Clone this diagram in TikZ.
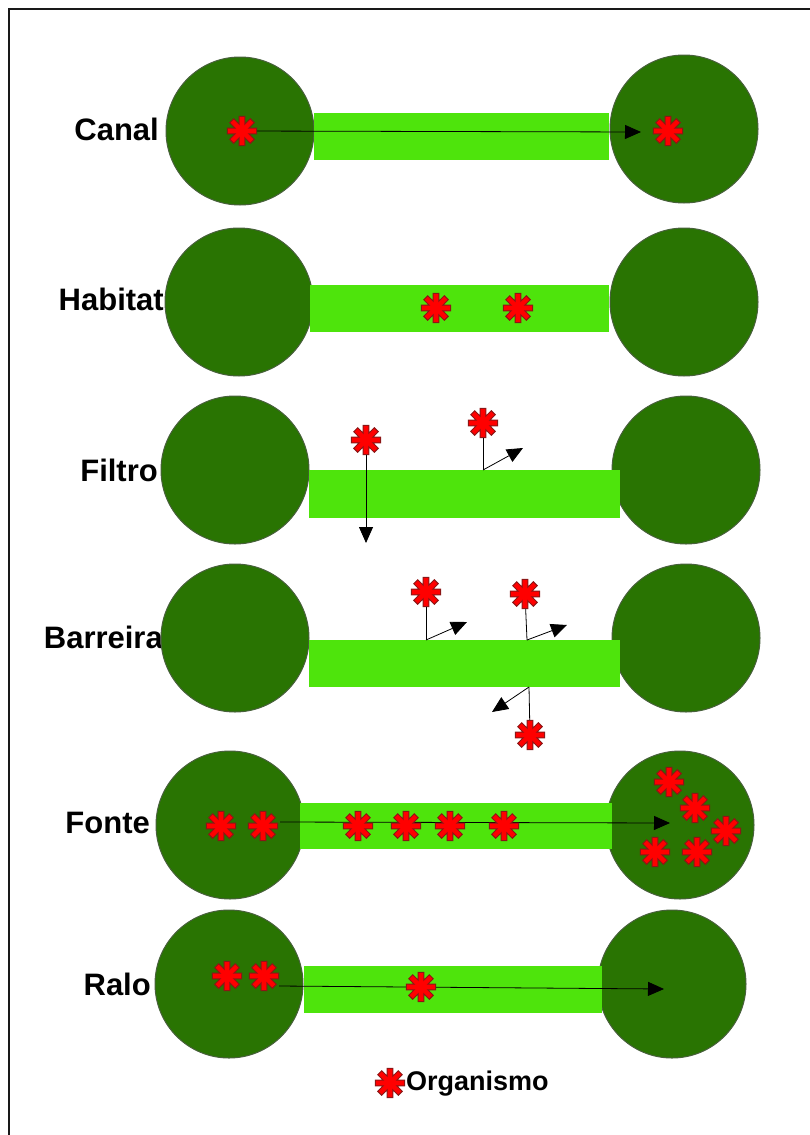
\documentclass[tikz,border=0pt]{standalone}
\usepackage{fontspec}
\setmainfont{Liberation Sans}
\usetikzlibrary{arrows.meta}
\definecolor{lagoa}{RGB}{41,116,2}
\definecolor{lagoaborda}{RGB}{72,96,60}
\definecolor{corredorverde}{RGB}{78,228,12}
\definecolor{orgborda}{RGB}{140,22,22}
\begin{document}
\begin{tikzpicture}[x=1pt,y=-1pt,
  patch/.style={circle, fill=lagoa, draw=lagoaborda, line width=1pt, minimum size=148pt, inner sep=0pt},
  corredor/.style={fill=corredorverde},
  rotulo/.style={anchor=east, inner sep=0pt, font=\fontsize{31}{36}\selectfont\bfseries},
  fluxo/.style={-{Triangle[length=16pt,width=14pt]}, line width=0.8pt},
  org/.pic={\draw[fill=red, draw=orgborda, line width=1pt] (-22.5:7.4)
    \foreach \a in {0,45,...,315}{ -- (\a-11:14.8) -- (\a+11:14.8) -- (\a+22.5:7.4)} -- cycle;}]
\useasboundingbox (0,0) rectangle (810,1135);
\draw[line width=2.5pt, black!90] (9,1135) -- (9,9) -- (810,9);

\node[rotulo] (canal) at (159,129) {Canal};
\node[patch] (canalA) at (240,131) {};
\node[patch] (canalB) at (684,129) {};
\fill[corredor] (314,113) rectangle (609,160);
\coordinate (o1) at (242,131);
\coordinate (o2) at (668,131);
\coordinate (t1) at (641,132);
\draw[fluxo] (o1) -- (t1);
\pic at (o1) {org};
\pic at (o2) {org};

\node[rotulo] (habitat) at (164,299) {Habitat};
\node[patch] (habitatA) at (239,302) {};
\node[patch] (habitatB) at (684,302) {};
\fill[corredor] (310,285) rectangle (609,332);
\coordinate (o3) at (436,308);
\coordinate (o4) at (518,308);
\pic at (o3) {org};
\pic at (o4) {org};

\node[rotulo] (filtro) at (158,470) {Filtro};
\node[patch] (filtroA) at (235,470) {};
\node[patch] (filtroB) at (686,470) {};
\fill[corredor] (309,470) rectangle (620,518);
\coordinate (o5) at (366,440);
\coordinate (t5) at (366,543);
\coordinate (o6) at (483,423);
\coordinate (k6) at (483,470);
\coordinate (t6) at (523,448);
\draw[fluxo] (o5) -- (t5);
\draw[line width=0.8pt] (o6) -- (k6);
\draw[fluxo] (k6) -- (t6);
\pic at (o5) {org};
\pic at (o6) {org};

\node[rotulo] (barreira) at (163,637) {Barreira};
\node[patch] (barreiraA) at (235,638) {};
\node[patch] (barreiraB) at (686,638) {};
\fill[corredor] (309,640) rectangle (620,687);
\coordinate (o7) at (426,592);
\coordinate (k7) at (426,640);
\coordinate (t7) at (467,622);
\coordinate (o8) at (525,594);
\coordinate (k8) at (527,640);
\coordinate (t8) at (567,625);
\coordinate (o9) at (530,735);
\coordinate (k9) at (529,687);
\coordinate (t9) at (492,712);
\draw[line width=0.8pt] (o7) -- (k7);
\draw[fluxo] (k7) -- (t7);
\draw[line width=0.8pt] (o8) -- (k8);
\draw[fluxo] (k8) -- (t8);
\draw[line width=0.8pt] (o9) -- (k9);
\draw[fluxo] (k9) -- (t9);
\pic at (o7) {org};
\pic at (o8) {org};
\pic at (o9) {org};

\node[rotulo] (fonte) at (150,823) {Fonte};
\node[patch] (fonteA) at (230,825) {};
\node[patch] (fonteB) at (680,825) {};
\fill[corredor] (300,803) rectangle (612,849);
\coordinate (s1) at (221,826);
\coordinate (s2) at (263,826);
\coordinate (s3) at (358,826);
\coordinate (s4) at (406,826);
\coordinate (s5) at (450,826);
\coordinate (s6) at (504,826);
\coordinate (f0) at (280,822);
\coordinate (f1) at (670,823);
\coordinate (s7) at (669,782);
\coordinate (s8) at (695,808);
\coordinate (s9) at (726,831);
\coordinate (s10) at (655,852);
\coordinate (s11) at (697,852);
\draw[fluxo] (f0) -- (f1);
\foreach \s in {s1,s2,s3,s4,s5,s6,s7,s8,s9,s10,s11}
  \pic at (\s) {org};

\node[rotulo] (ralo) at (151,984) {Ralo};
\node[patch] (raloA) at (229,984) {};
\node[patch] (raloB) at (672,984) {};
\fill[corredor] (304,966) rectangle (602,1013);
\coordinate (r1) at (227,976);
\coordinate (r2) at (264,976);
\coordinate (r3) at (421,987);
\coordinate (g0) at (279,986);
\coordinate (g1) at (664,989);
\draw[fluxo] (g0) -- (g1);
\pic at (r1) {org};
\pic at (r2) {org};
\pic at (r3) {org};

\coordinate (leg) at (390,1083);
\pic at (leg) {org};
\node[anchor=west, inner sep=0pt, font=\fontsize{27}{31}\selectfont\bfseries] (legenda) at (406,1084) {Organismo};
\end{tikzpicture}
\end{document}
